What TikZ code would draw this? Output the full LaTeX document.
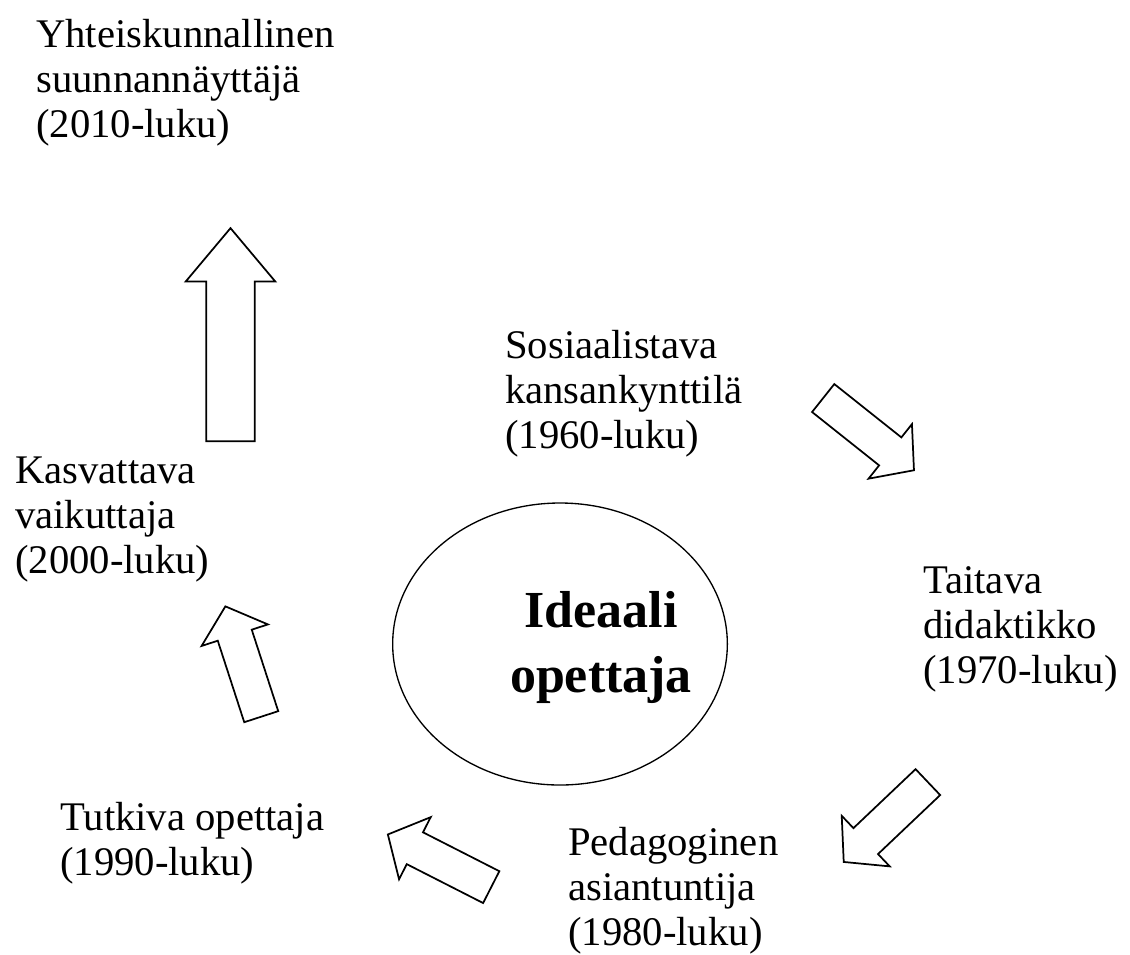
\documentclass[tikz,border=0pt]{standalone}
\usepackage{fontspec}
\setmainfont{Liberation Serif}
\usetikzlibrary{shapes.geometric,shapes.arrows}
\begin{document}
\begin{tikzpicture}[x=0.75pt,y=-0.75pt,
  era/.style={anchor=base west,align=left,inner sep=0pt,font=\fontsize{30.5}{33.75}\selectfont},
  bigarrow/.style={single arrow,draw,line width=1.3pt,inner xsep=0pt,inner ysep=17.6pt,
    single arrow head extend=15.4pt,single arrow tip angle=80,minimum width=0pt,
    minimum height=159.75pt,anchor=tail},
  smallarrow/.style={single arrow,draw,line width=1.3pt,inner xsep=0pt,inner ysep=12.75pt,
    single arrow head extend=12.75pt,single arrow tip angle=98,minimum width=0pt,
    minimum height=87pt,anchor=tail}]
\useasboundingbox (0,0) rectangle (1130,954);
\node[ellipse,draw,line width=1pt,minimum width=251pt,minimum height=211.5pt,inner sep=0pt] (ideal) at (560,644) {};
\node[font=\bfseries\fontsize{39}{48.75}\selectfont,align=center,anchor=base,inner sep=0pt] (idealtext) at (601,692) {Ideaali\\opettaja};
\node[era] (e2010) at (36,137) {Yhteiskunnallinen\\suunnannäyttäjä\\(2010-luku)};
\node[era] (e1960) at (505,448) {Sosiaalistava\\kansankynttilä\\(1960-luku)};
\node[era] (e1970) at (923,683) {Taitava\\didaktikko\\(1970-luku)};
\node[era] (e1980) at (568,945) {Pedagoginen\\asiantuntija\\(1980-luku)};
\node[era] (e1990) at (60,875) {Tutkiva opettaja\\(1990-luku)};
\node[era] (e2000) at (15,573) {Kasvattava\\vaikuttaja\\(2000-luku)};
\node[bigarrow,rotate=90] (a2010) at (230.5,442) {};
\node[smallarrow,rotate=-38.5] (a1970) at (822.5,397.5) {};
\node[smallarrow,rotate=-136.5] (a1980) at (928.5,781.5) {};
\node[smallarrow,rotate=153] (a1990) at (492,887.5) {};
\node[smallarrow,rotate=108] (a2000) at (261.5,717.5) {};
\end{tikzpicture}
\end{document}
